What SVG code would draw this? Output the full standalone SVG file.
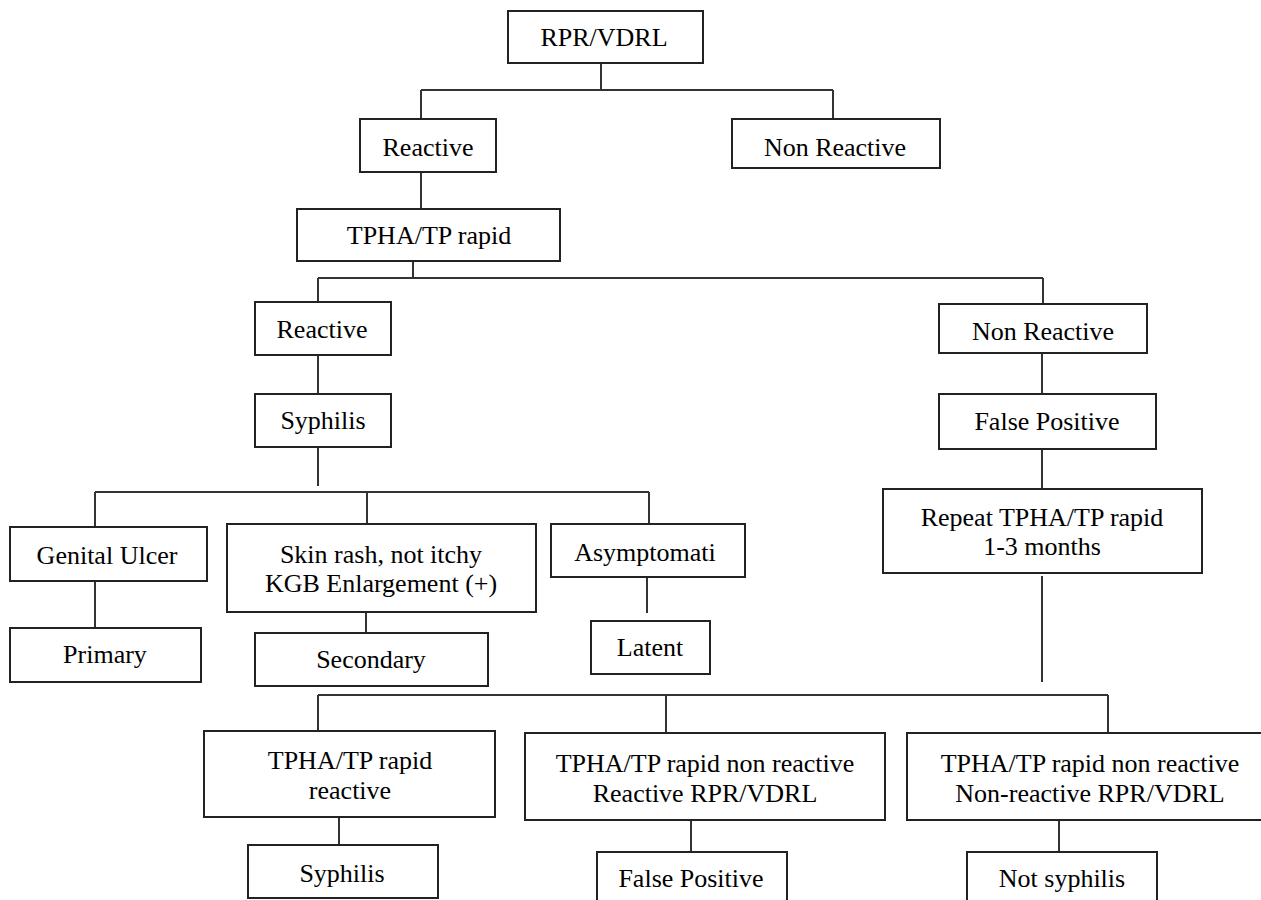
<svg xmlns="http://www.w3.org/2000/svg" width="1261" height="900" viewBox="0 0 1261 900">
<style>
.box rect{fill:#fff;stroke:#222;stroke-width:2}
.box text{font-family:"Liberation Serif","Times New Roman",serif;font-size:26px;fill:#000;text-anchor:middle}
#connectors path{fill:none;stroke:#333;stroke-width:2}
</style>
<rect width="1261" height="900" fill="#fff"/>
<g id="connectors">
<path d="M601,62V90M421,90H833M421,90V119M833,90V119"/>
<path d="M421,172V209"/>
<path d="M413,261V278M318,278H1043M318,278V302M1043,278V304"/>
<path d="M318,355V394"/>
<path d="M318,447V486"/>
<path d="M95,492H649M95,492V527M367,492V524M649,492V524"/>
<path d="M95,581V628"/>
<path d="M366,612V633"/>
<path d="M647,577V613"/>
<path d="M1042,353V394"/>
<path d="M1042,449V489"/>
<path d="M1042,576V682"/>
<path d="M318,695H1108M318,695V731M666,695V733M1108,695V733"/>
<path d="M339,817V845"/>
<path d="M691,820V852"/>
<path d="M1059,819V852"/>
</g>
<g id="n-rpr" class="box"><rect x="508" y="11" width="195" height="52"/><text x="604" y="46">RPR/VDRL</text></g>
<g id="n-reactive1" class="box"><rect x="360" y="119" width="136" height="53"/><text x="428" y="156">Reactive</text></g>
<g id="n-nonreactive1" class="box"><rect x="732" y="119" width="208" height="49"/><text x="835" y="156">Non Reactive</text></g>
<g id="n-tpha" class="box"><rect x="297" y="209" width="263" height="52"/><text x="429" y="244">TPHA/TP rapid</text></g>
<g id="n-reactive2" class="box"><rect x="255" y="302" width="136" height="53"/><text x="322" y="338">Reactive</text></g>
<g id="n-syphilis1" class="box"><rect x="255" y="394" width="136" height="53"/><text x="323" y="429">Syphilis</text></g>
<g id="n-genital" class="box"><rect x="10" y="527" width="197" height="54"/><text x="107" y="564">Genital Ulcer</text></g>
<g id="n-skin" class="box"><rect x="227" y="524" width="309" height="88"/><text x="381" y="563">Skin rash, not itchy</text><text x="381" y="592">KGB Enlargement (+)</text></g>
<g id="n-asym" class="box"><rect x="551" y="524" width="194" height="53"/><text x="645" y="561">Asymptomati</text></g>
<g id="n-primary" class="box"><rect x="10" y="628" width="191" height="54"/><text x="105" y="663">Primary</text></g>
<g id="n-secondary" class="box"><rect x="255" y="633" width="233" height="53"/><text x="371" y="668">Secondary</text></g>
<g id="n-latent" class="box"><rect x="591" y="621" width="119" height="53"/><text x="650" y="656">Latent</text></g>
<g id="n-nonreactive2" class="box"><rect x="939" y="304" width="208" height="49"/><text x="1043" y="340">Non Reactive</text></g>
<g id="n-falsepos1" class="box"><rect x="939" y="394" width="217" height="55"/><text x="1047" y="430">False Positive</text></g>
<g id="n-repeat" class="box"><rect x="883" y="489" width="319" height="84"/><text x="1042" y="526">Repeat TPHA/TP rapid</text><text x="1042" y="555">1-3 months</text></g>
<g id="n-tpha-reactive" class="box"><rect x="204" y="731" width="291" height="86"/><text x="350" y="769">TPHA/TP rapid</text><text x="350" y="799">reactive</text></g>
<g id="n-tpha-nr-r" class="box"><rect x="525" y="733" width="360" height="87"/><text x="705" y="772">TPHA/TP rapid non reactive</text><text x="705" y="802">Reactive RPR/VDRL</text></g>
<g id="n-tpha-nr-nr" class="box"><rect x="907" y="733" width="368" height="87"/><text x="1090" y="772">TPHA/TP rapid non reactive</text><text x="1090" y="802">Non-reactive RPR/VDRL</text></g>
<g id="n-syphilis2" class="box"><rect x="248" y="845" width="190" height="53"/><text x="342" y="882">Syphilis</text></g>
<g id="n-falsepos2" class="box"><rect x="597" y="852" width="190" height="60"/><text x="691" y="887">False Positive</text></g>
<g id="n-notsyph" class="box"><rect x="967" y="852" width="190" height="60"/><text x="1062" y="887">Not syphilis</text></g>
</svg>
